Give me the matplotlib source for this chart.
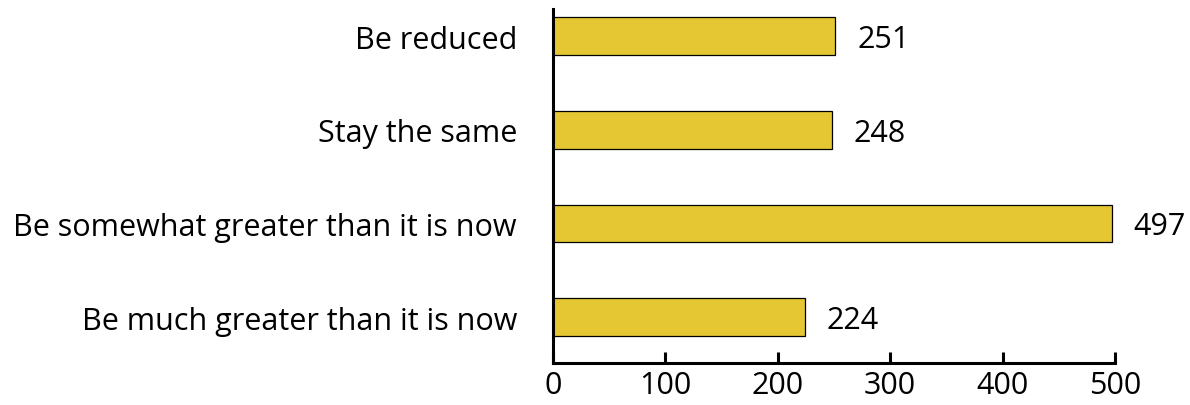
import matplotlib
matplotlib.use("Agg")
import matplotlib.pyplot as plt

categories = ["Be reduced", "Stay the same", "Be somewhat greater than it is now", "Be much greater than it is now"]
values = [251, 248, 497, 224]
xticks = [0, 100, 200, 300, 400, 500]

plt.rcParams['font.family'] = ['Open Sans', 'DejaVu Sans']

fig = plt.figure(figsize=(11.9, 4.06), dpi=100)
ax = fig.add_axes([553/1190, (406-364)/406, (1115-553)/1190, (364-10)/406])

ypos = list(range(len(categories)))
ax.barh(ypos, values, height=0.4, color="#E4C733", edgecolor="black", linewidth=0.9)
for y, v in zip(ypos, values):
    ax.annotate(str(v), xy=(v, y), xytext=(16, -2), textcoords="offset points",
                ha="left", va="center", fontsize=22)

ax.set_xlim(0, 500)
ax.set_ylim(3.49, -0.29)
ax.set_yticks(ypos)
ax.set_yticklabels(categories, fontsize=22, va="center_baseline")
ax.set_xticks(xticks)
ax.set_xticklabels([str(t) for t in xticks], fontsize=22)
ax.tick_params(axis="y", length=0, pad=26)
ax.tick_params(axis="x", direction="in", length=8, width=2.2, pad=5)
for s in ["top", "right"]:
    ax.spines[s].set_visible(False)
for s in ["left", "bottom"]:
    ax.spines[s].set_linewidth(2.2)

fig.savefig("out.png", dpi=100)
